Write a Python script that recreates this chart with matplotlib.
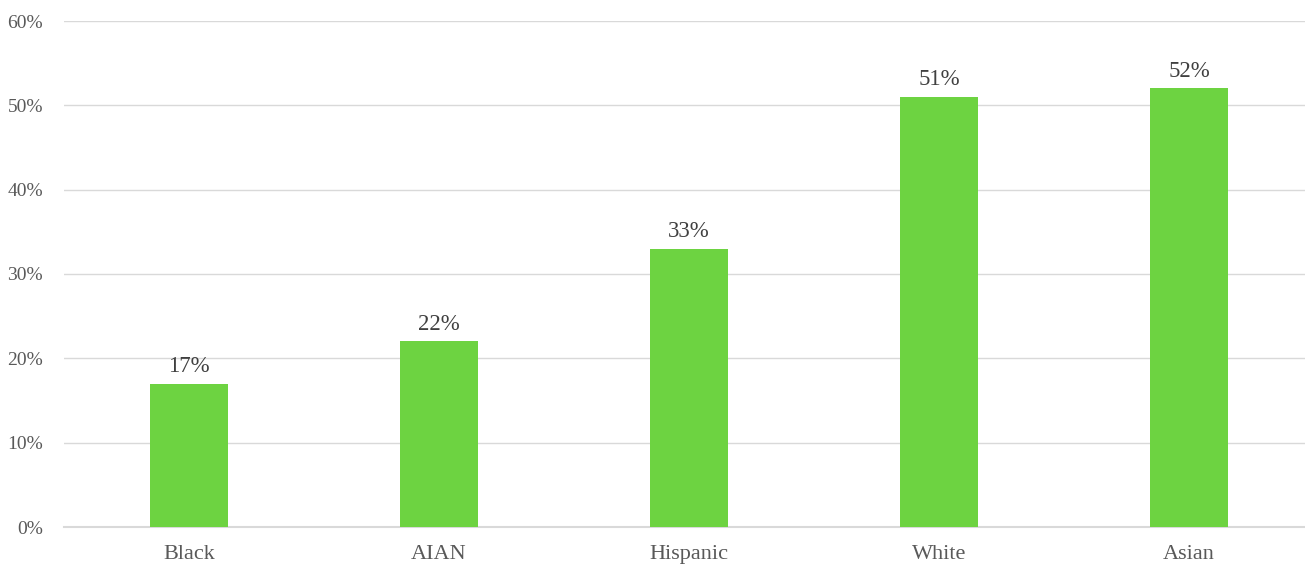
import matplotlib.pyplot as plt

categories = ['Black', 'AIAN', 'Hispanic', 'White', 'Asian']
values = [17, 22, 33, 51, 52]
yticks = [0, 10, 20, 30, 40, 50, 60]

plt.rcParams['font.family'] = ['Liberation Serif', 'DejaVu Serif']

fig = plt.figure(figsize=(13.05, 5.65), dpi=100)
ax = fig.add_axes([64 / 1305, 38 / 565, (1305 - 64) / 1305, (527 - 21) / 565])

x = list(range(len(categories)))
bars = ax.bar(x, values, width=0.312, color='#6dd341', zorder=3)

for xi, v in zip(x, values):
    ax.text(xi, v + 0.8, f'{v}%', ha='center', va='bottom',
            fontsize=16.5, color='#404040')

ax.set_xlim(-0.5, 4.464)
ax.set_ylim(0, 60)
ax.set_yticks(yticks)
ax.set_yticklabels([f'{t}%' for t in yticks], fontsize=14, color='#595959')
ax.set_xticks(x)
ax.set_xticklabels(categories, fontsize=16, color='#595959')
ax.tick_params(axis='both', length=0)
ax.tick_params(axis='y', pad=15)
ax.tick_params(axis='x', pad=13)

ax.grid(axis='y', color='#d9d9d9', linewidth=1, zorder=0)
for s in ['top', 'right', 'left']:
    ax.spines[s].set_visible(False)
ax.spines['bottom'].set_color('#d9d9d9')
ax.spines['bottom'].set_linewidth(1.5)

fig.savefig('out.png', dpi=100, facecolor='white')
